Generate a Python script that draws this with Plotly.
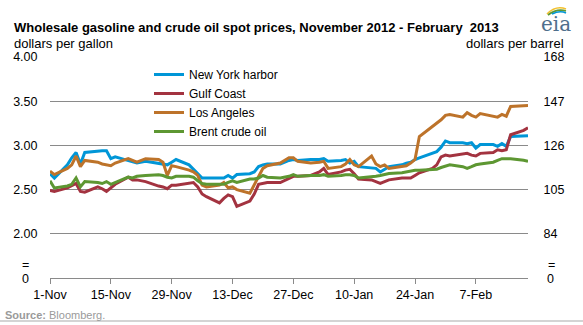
import pandas as pd
import plotly.graph_objects as go

# Trading days (weekdays, less market holidays)
holidays = ["2012-11-22", "2012-12-25", "2013-01-01"]
dates = [d for d in pd.bdate_range("2012-11-01", "2013-02-19") if d.strftime("%Y-%m-%d") not in holidays]

# Spot prices, dollars per gallon
new_york = [2.68, 2.63, 2.78, 2.86, 2.92, 2.79, 2.92, 2.94, 2.94, 2.94, 2.85, 2.87, 2.83, 2.81, 2.80, 2.82, 2.80, 2.79, 2.78, 2.81, 2.84,
            2.78, 2.73, 2.68, 2.63, 2.63, 2.63, 2.63, 2.66, 2.63, 2.67, 2.68, 2.70, 2.76, 2.78, 2.79, 2.79, 2.83, 2.84, 2.83, 2.84,
            2.84, 2.85, 2.82, 2.83, 2.84, 2.80, 2.82, 2.76, 2.74, 2.74, 2.70, 2.73, 2.76, 2.78, 2.80, 2.81, 2.84, 2.86, 2.91, 2.93, 2.98, 3.05,
            3.03, 3.03, 3.02, 3.03, 2.97, 3.01, 3.01, 2.99, 3.02, 2.99, 3.10, 3.11, 3.11]
gulf_coast = [2.49, 2.48, 2.52, 2.55, 2.57, 2.48, 2.47, 2.53, 2.51, 2.48, 2.52, 2.56, 2.64, 2.61, 2.61, 2.59, 2.54, 2.53, 2.51, 2.55, 2.55,
              2.57, 2.58, 2.53, 2.45, 2.42, 2.35, 2.40, 2.44, 2.42, 2.31, 2.37, 2.45, 2.56, 2.57, 2.58, 2.58, 2.63, 2.65, 2.65, 2.66,
              2.70, 2.74, 2.67, 2.70, 2.72, 2.73, 2.68, 2.62, 2.61, 2.59, 2.57, 2.59, 2.61, 2.63, 2.63, 2.63, 2.66, 2.69, 2.74, 2.78, 2.87, 2.89,
              2.88, 2.90, 2.91, 2.89, 2.88, 2.91, 2.92, 2.95, 2.94, 2.95, 3.12, 3.17, 3.20]
los_angeles = [2.71, 2.67, 2.74, 2.78, 2.88, 2.76, 2.83, 2.81, 2.79, 2.78, 2.77, 2.80, 2.85, 2.83, 2.81, 2.85, 2.84, 2.81, 2.66, 2.77, 2.76,
               2.72, 2.70, 2.66, 2.55, 2.53, 2.55, 2.58, 2.52, 2.53, 2.50, 2.46, 2.55, 2.65, 2.74, 2.77, 2.80, 2.86, 2.86, 2.82, 2.80,
               2.81, 2.82, 2.74, 2.76, 2.79, 2.84, 2.78, 2.76, 2.88, 2.79, 2.76, 2.78, 2.74, 2.76, 2.77, 2.80, 2.84, 3.10, 3.21, 3.25, 3.29, 3.34,
               3.35, 3.32, 3.37, 3.34, 3.32, 3.36, 3.33, 3.32, 3.35, 3.33, 3.44, 3.45, 3.45]
# Brent crude, dollars per barrel
brent = [109.2, 105.8, 106.7, 107.5, 110.5, 106.3, 108.8, 108.4, 107.9, 108.8, 107.5, 108.4, 110.9, 110.5, 111.3, 111.7, 112.1, 111.7, 110.9, 110.5, 111.3,
         111.3, 110.9, 109.2, 107.9, 107.5, 107.5, 107.5, 108.4, 109.2, 108.4, 110.0, 110.0, 110.5, 111.7, 110.9, 110.5, 111.3, 112.1, 111.3, 111.7,
         111.7, 112.1, 111.3, 111.7, 112.1, 112.1, 111.7, 110.5, 110.9, 111.3, 111.7, 112.1, 112.6, 113.0, 113.4, 113.8, 114.2, 114.2, 114.7, 114.7, 115.5, 116.3,
         116.8, 115.9, 115.1, 115.9, 116.8, 117.2, 118.0, 118.9, 119.7, 119.7, 119.7, 118.9, 118.4]

x_tick_dates = ["2012-11-01", "2012-11-15", "2012-11-29", "2012-12-13", "2012-12-27",
                "2013-01-10", "2013-01-24", "2013-02-07"]
x_tick_labels = ["1-Nov", "15-Nov", "29-Nov", "13-Dec", "27-Dec", "10-Jan", "24-Jan", "7-Feb"]
gal_ticks = [2.0, 2.5, 3.0, 3.5, 4.0]
gal_labels = ["2.00", "2.50", "3.00", "3.50", "4.00"]
bbl_ticks = [84, 105, 126, 147, 168]
bbl_labels = ["84", "105", "126", "147", "168"]

FONT = "Liberation Sans, Arial, sans-serif"
GRID = "#8a8a8a"

W, H = 583, 325
L, R, T, B = 50, 55, 57, 47
PW, PH = W - L - R, H - T - B


def px(x):
    return (x - L) / PW


def py(y):
    return (H - B - y) / PH


fig = go.Figure()
series = [
    ("New York harbor", new_york, "#0096D7", "y"),
    ("Gulf Coast", gulf_coast, "#A33340", "y"),
    ("Los Angeles", los_angeles, "#BD732A", "y"),
    ("Brent crude oil", brent, "#5D9732", "y2"),
]
for name, vals, color, axis in series:
    fig.add_trace(go.Scatter(x=dates, y=vals, name=name, mode="lines", yaxis=axis,
                             line=dict(color=color, width=3)))

fig.update_layout(
    width=W, height=H,
    margin=dict(l=L, r=R, t=T, b=B),
    paper_bgcolor="white", plot_bgcolor="white",
    font=dict(family=FONT, color="black", size=12.5),
    xaxis=dict(type="date", range=["2012-11-01", "2013-02-19"],
               tickvals=x_tick_dates, ticktext=x_tick_labels,
               ticks="outside", ticklen=5, tickcolor=GRID, tickwidth=1,
               showline=True, linecolor=GRID, linewidth=1,
               showgrid=False, zeroline=False,
               tickfont=dict(size=12.5)),
    yaxis=dict(range=[1.5, 4.0], tickvals=gal_ticks, ticktext=gal_labels,
               showgrid=True, gridcolor=GRID, gridwidth=1, zeroline=False,
               ticks="outside", ticklen=9, tickcolor="rgba(0,0,0,0)",
               tickfont=dict(size=12.5)),
    yaxis2=dict(range=[63, 168], tickvals=bbl_ticks, ticktext=bbl_labels,
                overlaying="y", side="right", showgrid=False, zeroline=False,
                ticks="outside", ticklen=12, tickcolor="rgba(0,0,0,0)",
                tickfont=dict(size=12.5)),
    legend=dict(x=px(149), y=py(60), xanchor="left", yanchor="top",
                bgcolor="rgba(0,0,0,0)", font=dict(size=12),
                itemwidth=30, tracegroupgap=0),
    showlegend=True,
)

ann = [
    dict(text="<b>Wholesale gasoline and crude oil spot prices, November 2012 - February  2013</b>",
         x=px(12), y=py(27), xanchor="left", yanchor="middle", font=dict(size=13)),
    dict(text="dollars per gallon", x=px(12), y=py(43), xanchor="left", yanchor="middle",
         font=dict(size=13)),
    dict(text="dollars per barrel", x=px(566), y=py(43), xanchor="right", yanchor="middle",
         font=dict(size=13)),
    dict(text="=", x=px(25), y=py(265), xanchor="center", yanchor="middle", font=dict(size=12.5)),
    dict(text="0", x=px(25), y=py(279), xanchor="center", yanchor="middle", font=dict(size=12.5)),
    dict(text="=", x=px(551), y=py(265), xanchor="center", yanchor="middle", font=dict(size=12.5)),
    dict(text="0", x=px(550), y=py(279), xanchor="center", yanchor="middle", font=dict(size=12.5)),
    dict(text="<b>Source:</b> Bloomberg.", x=px(3), y=py(315), xanchor="left", yanchor="middle",
         font=dict(size=11, color="#9a9a9a")),
    dict(text="eia", x=px(556), y=py(24), xanchor="center", yanchor="middle",
         font=dict(size=20, family="DejaVu Serif, serif", color="#4f6f8c")),
]
for a in ann:
    a.update(xref="paper", yref="paper", showarrow=False)
fig.update_layout(annotations=ann)


def arc(x0, y0, cx, cy, x1, y1, color):
    return dict(type="path", xref="paper", yref="paper",
                path=f"M {px(x0)},{py(y0)} Q {px(cx)},{py(cy)} {px(x1)},{py(y1)}",
                line=dict(color=color, width=1.6))


fig.update_layout(shapes=[
    arc(547, 14, 556, 5, 566, 9, "#F2C12E"),
    arc(548, 15, 557, 8, 566, 11, "#5D9732"),
    arc(552, 14, 560, 10, 566, 13, "#0096D7"),
    dict(type="line", xref="paper", yref="paper", x0=px(0), x1=px(W), y0=py(321), y1=py(321),
         line=dict(color="#d4d4d4", width=2)),
])

fig.write_html("out.html")
